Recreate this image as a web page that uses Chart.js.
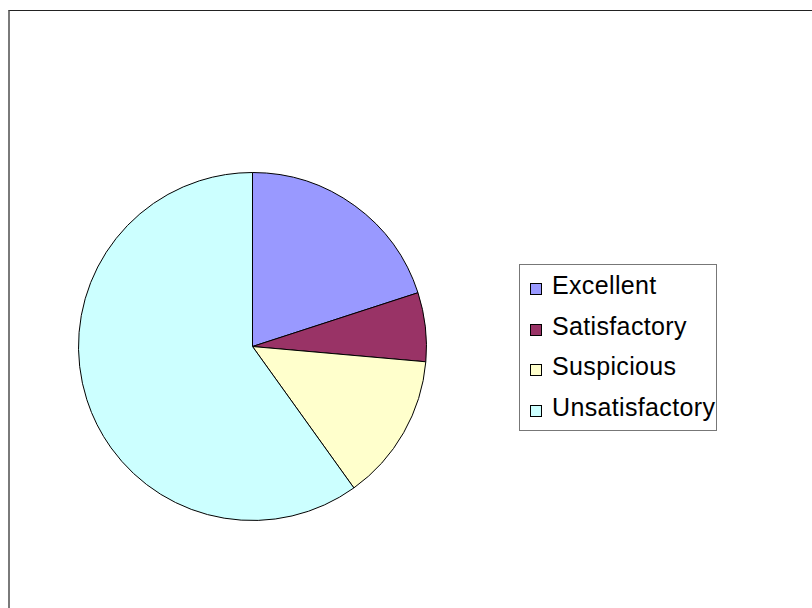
<!DOCTYPE html>
<html>
<head>
<meta charset="utf-8">
<script src="https://cdn.jsdelivr.net/npm/chart.js@4/dist/chart.umd.min.js"></script>
<style>
  html, body { margin: 0; padding: 0; background: #fff; width: 812px; height: 608px; overflow: hidden; }
  #frame { position: absolute; left: 8px; top: 10px; width: 820px; height: 620px;
           border-top: 1px solid #222; border-left: 2px solid #7a7a7a; }
  #pieWrap { position: absolute; left: 78px; top: 172px; width: 349px; height: 349px; }
  #legend { position: absolute; left: 519px; top: 264px; width: 198px; height: 167px;
            border: 1px solid #777; box-sizing: border-box; background: #fff;
            font-family: "Liberation Sans", Arial, sans-serif; font-size: 25px; letter-spacing: 0.35px; color: #000; }
  .item { position: absolute; left: 32px; height: 28px; line-height: 28px; white-space: nowrap; }
  .sw { position: absolute; left: 10px; width: 12px; height: 12px; border: 1px solid #000; box-sizing: border-box; }
</style>
</head>
<body>
<div id="frame"></div>
<div id="pieWrap"><canvas id="c" width="349" height="349"></canvas></div>
<div id="legend"></div>
<script>
const categories = ["Excellent", "Satisfactory", "Suspicious", "Unsatisfactory"];
const values = [20.0, 6.4, 13.7, 59.9];
const colors = ["#9999FF", "#993366", "#FFFFCC", "#CCFFFF"];

new Chart(document.getElementById("c"), {
  type: "pie",
  data: {
    labels: categories,
    datasets: [{
      data: values,
      backgroundColor: colors,
      borderColor: "#000000",
      borderWidth: 1
    }]
  },
  options: {
    responsive: false,
    animation: false,
    layout: { padding: 0 },
    plugins: { legend: { display: false }, tooltip: { enabled: false } }
  }
});

const legend = document.getElementById("legend");
categories.forEach((name, i) => {
  const s = document.createElement("span");
  s.className = "sw";
  s.style.top = (18 + i * 40.5) + "px";
  s.style.background = colors[i];
  legend.appendChild(s);
  const d = document.createElement("div");
  d.className = "item";
  d.style.top = (6 + i * 40.5) + "px";
  d.textContent = name;
  legend.appendChild(d);
});
</script>
</body>
</html>
